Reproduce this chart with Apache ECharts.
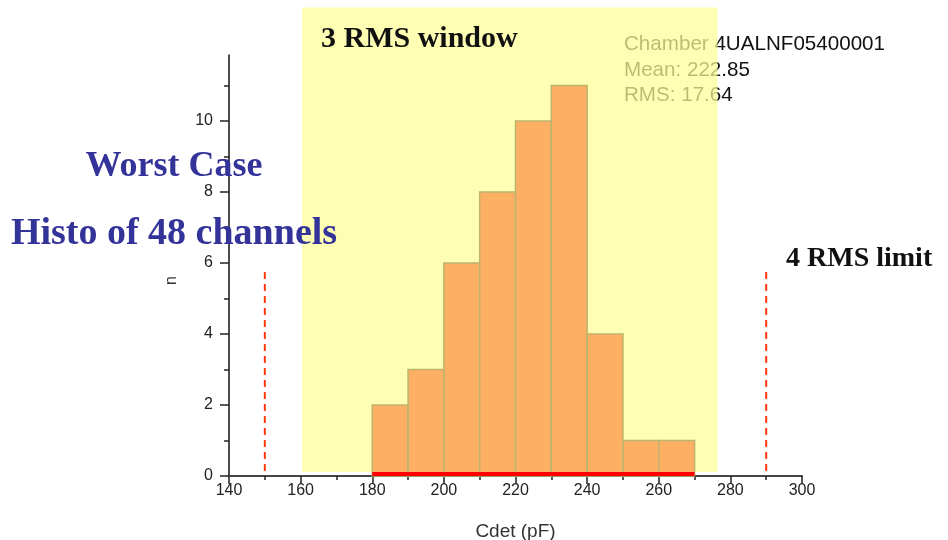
<!DOCTYPE html>
<html>
<head>
<meta charset="utf-8">
<script src="https://cdn.jsdelivr.net/npm/echarts@6/dist/echarts.min.js"></script>
<style>
  html, body { margin: 0; padding: 0; background: #fff; }
  #main { width: 948px; height: 540px; }
</style>
</head>
<body>
<div id="main"></div>
<script>
// histogram: bin start (pF), bin width, entries
var binStarts = [180, 190, 200, 210, 220, 230, 240, 250, 260];
var binWidth = 10;
var counts = [2, 3, 6, 8, 10, 11, 4, 1, 1];

// 4 RMS limit lines (pF) and how far up they go (n)
var limitLines = [150, 290];
var limitSpan = [0.14, 5.88];

// 3 RMS window (pF), it sticks out above the axis
var rmsWindow = [160.4, 276.4];
var windowSpan = [0.11, 13.2];
var baseBand = 0.11;

var stats = ['Chamber 4UALNF05400001', 'Mean: 222.85', 'RMS: 17.64'];
var yLabelTicks = [0, 2, 4, 6, 8, 10];
var yMinorTicks = [1, 3, 5, 7, 9, 11];
var xMin = 140, xMax = 300, xStep = 20, yMax = 11.86;

var sans = '"Liberation Sans", Arial, sans-serif';
var serif = '"Liberation Serif", "Times New Roman", serif';

function rectItem(api, x0, x1, y0, y1, style) {
  var a = api.coord([x0, y1]);
  var b = api.coord([x1, y0]);
  return {
    type: 'rect',
    shape: { x: a[0], y: a[1], width: b[0] - a[0], height: b[1] - a[1] },
    style: style
  };
}

var chart = echarts.init(document.getElementById('main'));

chart.setOption({
  animation: false,
  grid: { left: 229, right: 146, top: 55, bottom: 64, outerBoundsMode: 'none', containLabel: false },
  xAxis: {
    type: 'value', min: xMin, max: xMax, interval: xStep,
    axisLine: { show: true, lineStyle: { color: '#444', width: 2 } },
    axisTick: { show: true, length: 8, lineStyle: { color: '#222', width: 1.5 } },
    minorTick: { show: true, splitNumber: 2, length: 4, lineStyle: { color: '#222', width: 1.5 } },
    splitLine: { show: false },
    axisLabel: { margin: 7, color: '#222', fontSize: 16, fontFamily: sans },
    name: 'Cdet (pF)', nameLocation: 'middle', nameGap: 46,
    nameTextStyle: { color: '#333', fontSize: 19, fontFamily: sans }
  },
  yAxis: [{
    type: 'value', min: 0, max: yMax,
    axisLine: { show: true, lineStyle: { color: '#111', width: 1.5 } },
    axisTick: { show: true, customValues: yLabelTicks, length: 9, lineStyle: { color: '#222', width: 1.5 } },
    axisLabel: { customValues: yLabelTicks, margin: 16, color: '#222', fontSize: 16, fontFamily: sans },
    splitLine: { show: false },
    name: 'n', nameLocation: 'middle', nameGap: 49,
    nameTextStyle: { color: '#333', fontSize: 16, fontFamily: sans, padding: [0, 30, 0, 0] }
  }, {
    type: 'value', min: 0, max: yMax, position: 'left',
    axisLine: { show: false },
    axisTick: { show: true, customValues: yMinorTicks, length: 5, lineStyle: { color: '#222', width: 1.5 } },
    axisLabel: { show: false },
    splitLine: { show: false }
  }],
  series: [{
    // translucent window, drawn over the stats text
    type: 'custom', z: 2, clip: false, silent: true,
    data: [[rmsWindow[0], windowSpan[0], rmsWindow[1], windowSpan[1]]],
    renderItem: function (params, api) {
      return rectItem(api, api.value(0), api.value(2), api.value(1), api.value(3),
        { fill: 'rgb(255,255,150)', opacity: 0.72 });
    }
  }, {
    type: 'custom', z: 3, silent: true,
    encode: { x: [0, 1], y: 2 },
    data: binStarts.map(function (s, i) { return [s, s + binWidth, counts[i]]; }),
    renderItem: function (params, api) {
      return rectItem(api, api.value(0), api.value(1), 0, api.value(2),
        { fill: '#FDB064', stroke: '#BDB36C', lineWidth: 1.5 });
    }
  }, {
    type: 'custom', z: 4, silent: true,
    encode: { x: [0, 1], y: 2 },
    data: [[binStarts[0], binStarts[binStarts.length - 1] + binWidth, baseBand]],
    renderItem: function (params, api) {
      return rectItem(api, api.value(0), api.value(1), 0, api.value(2), { fill: '#FF0000' });
    }
  }, {
    type: 'custom', z: 4, silent: true,
    encode: { x: 0, y: [1, 2] },
    data: limitLines.map(function (x) { return [x, limitSpan[0], limitSpan[1]]; }),
    renderItem: function (params, api) {
      var a = api.coord([api.value(0), api.value(1)]);
      var b = api.coord([api.value(0), api.value(2)]);
      return {
        type: 'line',
        shape: { x1: a[0], y1: a[1], x2: b[0], y2: b[1] },
        style: { stroke: '#FF3A10', lineWidth: 2, lineDash: [7, 5] }
      };
    }
  }],
  graphic: stats.map(function (t, i) {
    return {
      type: 'text', z: 1, silent: true,
      style: { text: t, x: 624, y: 44.5 + i * 25.5, fill: '#111', fontSize: 20.6,
               fontFamily: sans, align: 'left', verticalAlign: 'middle' }
    };
  }).concat([{
    type: 'text', z: 10,
    style: { text: '3 RMS window', x: 321, y: 39, fill: '#111', fontSize: 30, fontWeight: 'bold',
             fontFamily: serif, align: 'left', verticalAlign: 'middle' }
  }, {
    type: 'text', z: 10,
    style: { text: 'Worst Case', x: 174, y: 167, fill: '#333399', fontSize: 36, fontWeight: 'bold',
             fontFamily: serif, align: 'center', verticalAlign: 'middle' }
  }, {
    type: 'text', z: 10,
    style: { text: 'Histo of 48 channels', x: 174, y: 234.5, fill: '#333399', fontSize: 38, fontWeight: 'bold',
             fontFamily: serif, align: 'center', verticalAlign: 'middle' }
  }, {
    type: 'text', z: 10,
    style: { text: '4 RMS limit', x: 786, y: 259, fill: '#111', fontSize: 28, fontWeight: 'bold',
             fontFamily: serif, align: 'left', verticalAlign: 'middle' }
  }])
});
</script>
</body>
</html>
